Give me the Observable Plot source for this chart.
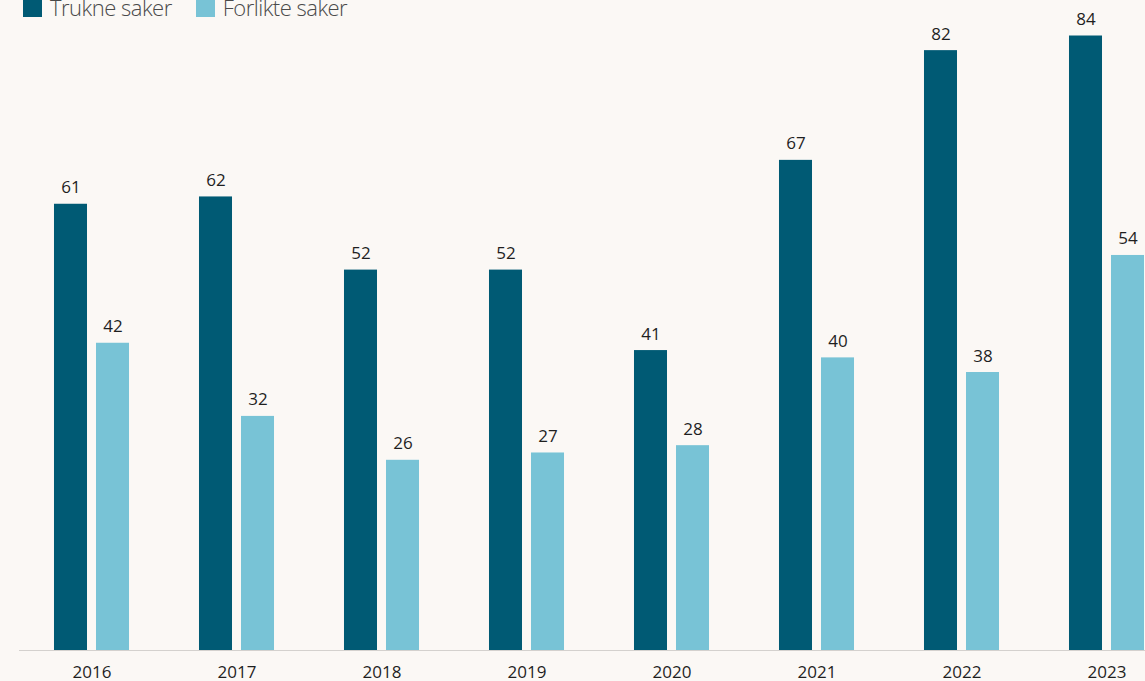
<!DOCTYPE html>
<html>
<head>
<meta charset="utf-8">
<script src="https://cdn.jsdelivr.net/npm/d3@7"></script>
<script src="https://cdn.jsdelivr.net/npm/@observablehq/plot@0.6"></script>
<style>
  html, body { margin: 0; padding: 0; background: #fbf8f5; overflow: hidden; width: 1145px; height: 681px; }
  #wrap { position: relative; width: 1145px; height: 681px; overflow: hidden; }
  #legend { position: absolute; left: 23px; top: -8px; display: flex; align-items: center; font-family: "Open Sans", sans-serif; font-weight: 300; font-size: 22px; letter-spacing: -0.5px; color: #4a4a4a; z-index: 2; line-height: 30px; }
  #legend .item { display: flex; align-items: center; margin-right: 24px; }
  #legend .sw { width: 19px; height: 19px; margin-right: 8px; }
  #chart { position: absolute; left: 0; top: 0; }
  #chart svg { max-width: none !important; }
</style>
</head>
<body>
<div id="wrap">
  <div id="legend"></div>
  <div id="chart"></div>
</div>
<script>
// Saker per år: trukne og forlikte
const years = ["2016", "2017", "2018", "2019", "2020", "2021", "2022", "2023"];
const series = ["Trukne saker", "Forlikte saker"];
const trukne = [61, 62, 52, 52, 41, 67, 82, 84];
const forlikte = [42, 32, 26, 27, 28, 40, 38, 54];
const colors = ["#005a74", "#78c3d6"];

const rows = years.flatMap((year, i) => [
  {year, serie: series[0], value: trukne[i]},
  {year, serie: series[1], value: forlikte[i]}
]);

// Legend
const legend = document.getElementById("legend");
series.forEach((s, i) => {
  const item = document.createElement("div");
  item.className = "item";
  const sw = document.createElement("div");
  sw.className = "sw";
  sw.style.background = colors[i];
  const label = document.createElement("span");
  label.textContent = s;
  item.append(sw, label);
  legend.append(item);
});

const chart = Plot.plot({
  width: 1180,
  height: 681,
  marginLeft: 19,
  marginRight: 1,
  marginTop: 35.5,
  marginBottom: 31,
  style: {background: "transparent", fontFamily: "Open Sans, sans-serif", color: "#1f1f1f"},
  fx: {domain: years, padding: 0, label: null, round: false},
  x: {domain: series, axis: null, paddingInner: 0.214, paddingOuter: 0.833, round: false},
  y: {domain: [0, 84], axis: null},
  color: {domain: series, range: colors},
  marks: [
    Plot.barY(rows, {fx: "year", x: "serie", y: "value", fill: "serie"}),
    Plot.text(rows, {fx: "year", x: "serie", y: "value", text: d => String(d.value), dy: -11, lineAnchor: "bottom", fontSize: 17, fill: "#1f1f1f"}),
    Plot.ruleY([0], {stroke: "#d4d1ce", strokeWidth: 1.2}),
    Plot.axisFx({anchor: "bottom", tickSize: 0, tickPadding: 15, fontSize: 17, label: null, fill: "#1f1f1f"})
  ]
});
document.getElementById("chart").append(chart);
</script>
</body>
</html>
